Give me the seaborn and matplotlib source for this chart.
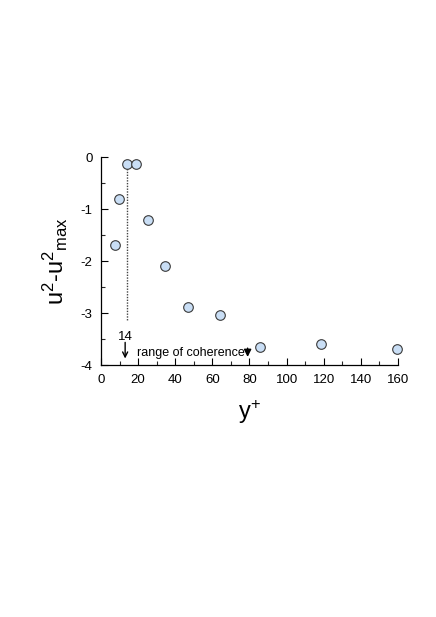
import matplotlib
matplotlib.use("Agg")
import matplotlib.pyplot as plt
import seaborn as sns
import pandas as pd
from matplotlib.ticker import MultipleLocator

# values
y_plus = [7.7, 9.9, 13.8, 18.8, 25.3, 34.3, 46.8, 63.9, 85.8, 118.8, 159.4]
du2 = [-1.68, -0.80, -0.13, -0.13, -1.20, -2.10, -2.88, -3.04, -3.65, -3.60, -3.69]
coherence_start = 14
coherence_end = 80

df = pd.DataFrame({"y_plus": y_plus, "du2": du2})

sns.set_theme(style="ticks")
plt.rcParams["font.family"] = ["Liberation Sans", "DejaVu Sans"]
plt.rcParams["mathtext.default"] = "regular"
plt.rcParams["axes.unicode_minus"] = False
plt.rcParams["text.color"] = "black"
plt.rcParams["axes.labelcolor"] = "black"

fig = plt.figure(figsize=(4.36, 6.17), dpi=100)
ax = fig.add_axes([0.2317, 0.408, 0.681, 0.337])

# dotted marker line at the start of the coherence range
ax.plot([13.8, 13.8], [-0.1, -3.12], color="#444444",
        linestyle=(0, (1, 1)), linewidth=1.0, zorder=1)

sns.scatterplot(data=df, x="y_plus", y="du2", ax=ax, s=48, clip_on=False,
                color="#c9def5", edgecolor="#3a3a3a", linewidth=0.8, zorder=3)

ax.set_xlim(0, 160)
ax.set_ylim(-4, 0)
ax.xaxis.set_major_locator(MultipleLocator(20))
ax.xaxis.set_minor_locator(MultipleLocator(10))
ax.yaxis.set_major_locator(MultipleLocator(1))
ax.yaxis.set_minor_locator(MultipleLocator(0.5))
ax.tick_params(which="major", direction="in", length=5, width=0.8, labelsize=9.5,
               colors="black", pad=6)
ax.tick_params(which="minor", direction="in", length=3, width=0.8)
for side in ["top", "right"]:
    ax.spines[side].set_visible(False)
for side in ["left", "bottom"]:
    ax.spines[side].set_linewidth(0.9)
    ax.spines[side].set_color("black")

ax.set_xlabel("y$^{+}$", fontsize=17, labelpad=9)
ax.set_ylabel("u$^2$-u$^2$$_{max}$", fontsize=17, labelpad=8)

# annotations
ax.text(13, -3.45, str(coherence_start), fontsize=9.5, ha="center", va="center")
ax.annotate("", xy=(13, -3.87), xytext=(13, -3.56),
            arrowprops=dict(arrowstyle="->", color="black", lw=1,
                            mutation_scale=9, shrinkA=0, shrinkB=0))
ax.annotate("", xy=(coherence_end - 1.0, -3.84), xytext=(coherence_end - 1.0, -3.67),
            arrowprops=dict(arrowstyle="-|>", color="black", lw=1,
                            mutation_scale=11, shrinkA=0, shrinkB=0))
ax.text(19.4, -3.77, "range of coherence", fontsize=9, ha="left", va="center")

fig.savefig("out.png", dpi=100)
